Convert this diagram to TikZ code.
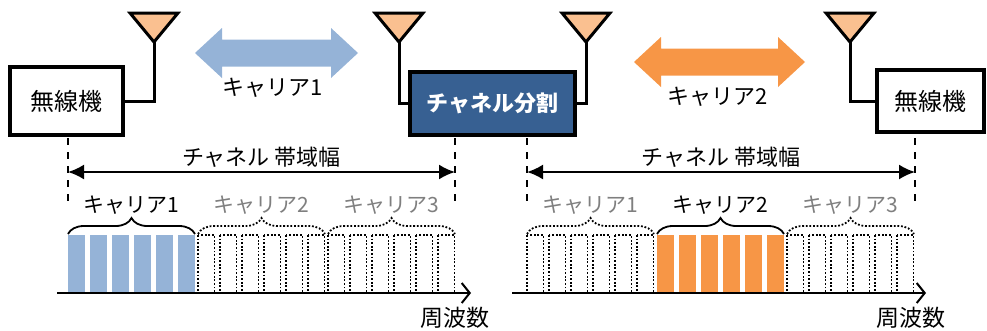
\documentclass[tikz,border=0pt]{standalone}
\usepackage{fontspec}
\setmainfont{Noto Sans CJK JP}
\usepackage{tikz}
\usetikzlibrary{arrows.meta, decorations.pathreplacing, calc}
\definecolor{carrierblue}{HTML}{95B3D7}
\definecolor{carrierorange}{HTML}{F79646}
\definecolor{antfill}{HTML}{FAC090}
\definecolor{splitblue}{HTML}{376092}
\definecolor{idlegray}{HTML}{7F7F7F}
\tikzstyle{radiobox} = [rectangle, draw, line width=3.5pt, fill=white, inner sep=0pt, font=\fontsize{24}{26}\selectfont]
\tikzstyle{splitbox} = [rectangle, draw, line width=3.5pt, fill=splitblue, text=white, inner sep=0pt, font=\fontsize{22}{26}\selectfont\bfseries]
\tikzstyle{antenna} = [draw, fill=antfill, line width=3pt, line join=miter]
\tikzstyle{mast} = [line width=3pt]
\tikzstyle{guide} = [line width=2.2pt, dash pattern=on 7pt off 7pt]
\tikzstyle{span} = [line width=2pt, {Latex[length=16pt,width=15pt]}-{Latex[length=16pt,width=15pt]}]
\tikzstyle{axis} = [line width=2pt, -{Straight Barb[length=8pt,width=20pt]}]
\tikzstyle{idlebar} = [draw, line width=1.8pt, dash pattern=on 1.8pt off 1.8pt]
\tikzstyle{usedbrace} = [decorate, decoration={brace, amplitude=16pt}, line width=1.8pt]
\tikzstyle{idlebrace} = [decorate, decoration={brace, amplitude=16pt}, line width=1.8pt, dash pattern=on 1.8pt off 1.8pt]
% big double arrow: name, colour, half length
\newcommand{\linkarrow}[3]{%
  \fill[#2] (#1) ++(-#3,0) -- ++(27,-25) -- ++(0,11.5) -- ++({2*#3-54},0) -- ++(0,-11.5)
    -- ++(27,25) -- ++(-27,25) -- ++(0,-11.5) -- ++({54-2*#3},0) -- ++(0,11.5) -- cycle;}
% one carrier: left x, bar style, brace style, label colour, label, name
\newcommand{\carrier}[6]{%
  \foreach \b in {0,...,5} \path[#2] ({#1+22*\b},235) rectangle ++(16.5,58);
  \draw[#3] (#1,234) -- ++(127,0);
  \node[text=#4, inner sep=0pt, font=\fontsize{21}{24}\selectfont] (#6) at ({#1+63.5},205) {#5};}

\begin{document}
\begin{tikzpicture}[x=1pt, y=-1pt, font=\fontsize{22}{24}\selectfont]
\useasboundingbox (0,0) rectangle (987,330);

% stations
\node[radiobox, minimum width=113pt, minimum height=68pt] (radioL) at (66.5,101) {無線機};
\node[splitbox, minimum width=165pt, minimum height=63pt] (split) at (492.5,103.5) {チャネル分割};
\node[radiobox, minimum width=107pt, minimum height=62pt] (radioR) at (930.5,101) {無線機};

% antennas
\coordinate (antL) at (154,42);
\coordinate (antS1) at (399,42);
\coordinate (antS2) at (586,42);
\coordinate (antR) at (850,42);
\draw[mast] (antL) |- (radioL.east);
\draw[mast] (antS1) |- (split.west);
\draw[mast] (antS2) |- (split.east);
\draw[mast] (antR) |- (radioR.west);
\foreach \a in {antL, antS1, antS2, antR}
  \draw[antenna] (\a) -- ++(-24,-29) -- ++(48,0) -- cycle;

% radio links
\coordinate (link1) at (276.5,53);
\coordinate (link2) at (719.5,62);
\linkarrow{link1}{carrierblue}{81.5}
\linkarrow{link2}{carrierorange}{85.5}
\node (link1lbl) at (273,88) {キャリア1};
\node (link2lbl) at (718,97) {キャリア2};

% channel bandwidth
\draw[guide] (68,138) -- (68,202);
\draw[guide] (455,138) -- (455,202);
\draw[guide] (527,138) -- (527,202);
\draw[guide] (915,138) -- (915,202);
\coordinate (bwL0) at (68,172);
\coordinate (bwL1) at (455,172);
\coordinate (bwR0) at (527,172);
\coordinate (bwR1) at (915,172);
\draw[span] (bwL0) -- (bwL1) node[midway, yshift=15pt, inner sep=0pt] (bwLlbl) {チャネル 帯域幅};
\draw[span] (bwR0) -- (bwR1) node[midway, yshift=15pt, inner sep=0pt] (bwRlbl) {チャネル 帯域幅};

% carriers
\carrier{68}{fill=carrierblue}{usedbrace}{black}{キャリア1}{cL1}
\carrier{198}{idlebar}{idlebrace}{idlegray}{キャリア2}{cL2}
\carrier{328}{idlebar}{idlebrace}{idlegray}{キャリア3}{cL3}
\carrier{527}{idlebar}{idlebrace}{idlegray}{キャリア1}{cR1}
\carrier{657}{fill=carrierorange}{usedbrace}{black}{キャリア2}{cR2}
\carrier{787}{idlebar}{idlebrace}{idlegray}{キャリア3}{cR3}

% frequency axes
\coordinate (axL0) at (57,293);
\coordinate (axL1) at (471,293);
\coordinate (axR0) at (512,293);
\coordinate (axR1) at (926,293);
\draw[axis] (axL0) -- (axL1);
\draw[axis] (axR0) -- (axR1);
\node[font=\fontsize{23}{24}\selectfont, inner sep=0pt] (freqL) at (455,318) {周波数};
\node[font=\fontsize{23}{24}\selectfont, inner sep=0pt] (freqR) at (911,318) {周波数};
\end{tikzpicture}
\end{document}
